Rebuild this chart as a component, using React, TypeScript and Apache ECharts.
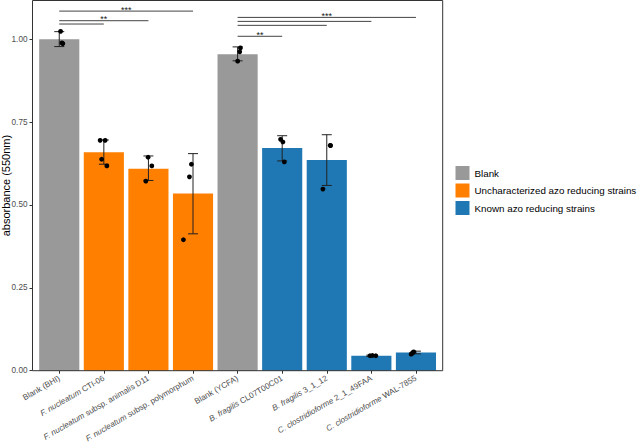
import React, { useEffect, useRef } from "react";
import * as echarts from "echarts";

const categories = [
  "Blank (BHI)",
  "F. nucleatum CTI-06",
  "F. nucleatum subsp. animalis D11",
  "F. nucleatum subsp. polymorphum",
  "Blank (YCFA)",
  "B. fragilis CL07T00C01",
  "B. fragilis 3_1_12",
  "C. clostridioforme 2_1_49FAA",
  "C. clostridioforme WAL-7855",
];
const groupNames = [
  "Blank",
  "Uncharacterized azo reducing strains",
  "Known azo reducing strains",
];
const groupColors = ["#999999", "#FF7F00", "#1F78B4"];
const categoryGroup = [0, 1, 1, 1, 0, 2, 2, 2, 2];

const means = [1.0, 0.659, 0.609, 0.535, 0.955, 0.672, 0.636, 0.045, 0.055];
const errLow = [0.978, 0.623, 0.574, 0.413, 0.935, 0.633, 0.559, 0.043, 0.051];
const errHigh = [1.023, 0.696, 0.648, 0.655, 0.977, 0.709, 0.712, 0.047, 0.059];

const replicateCategory = [0, 0, 0, 1, 1, 1, 1, 2, 2, 2, 3, 3, 3, 4, 4, 4, 5, 5, 5, 6, 6, 6, 7, 7, 7, 8, 8, 8];
const replicateValues = [
  1.024, 0.989, 0.987,
  0.695, 0.695, 0.638, 0.618,
  0.644, 0.618, 0.572,
  0.623, 0.585, 0.395,
  0.974, 0.962, 0.934,
  0.698, 0.69, 0.63,
  0.68, 0.679, 0.548,
  0.045, 0.046, 0.045,
  0.05, 0.057, 0.053,
];
// horizontal jitter, in category widths
const replicateJitter = [
  0.03, 0.06, 0.08,
  -0.083, 0.03, -0.05, 0.067,
  -0.007, 0.076, -0.058,
  -0.036, -0.08, -0.215,
  0.063, 0.047, 0.002,
  -0.036, 0.016, 0.047,
  0.078, 0.085, -0.087,
  -0.03, 0.025, 0.1,
  -0.108, -0.05, -0.08,
];

const comparisonsFrom = [0, 0, 0, 4, 4, 4, 4];
const comparisonsTo = [3, 2, 1, 8, 7, 6, 5];
const comparisonsY = [1.085, 1.056, 1.046, 1.066, 1.054, 1.042, 1.009];
const comparisonsLabel = ["***", "**", "", "***", "", "", "**"];

const yTickInterval = 0.25;

const FONT = "'Liberation Sans', Arial, Helvetica, sans-serif";

function formatCategory(name: string): string {
  if (name.startsWith("Blank")) return name;
  const parts = name.split(" ");
  const sp = parts.slice(0, 2).join(" ");
  const rest = parts.slice(2).join(" ");
  return "{i|" + sp + "}" + (rest ? " " + rest : "");
}

export default function App() {
  const ref = useRef<HTMLDivElement>(null);

  useEffect(() => {
    if (!ref.current) return;
    const chart = echarts.init(ref.current, undefined, { renderer: "svg" });

    const panelLeft = 32.5;
    const panelRight = 442.7;
    const panelTop = 0.5;
    const panelBottom = 370.7;
    const unit = (panelRight - panelLeft) / 9.2;
    const gridLeft = panelLeft + 0.1 * unit;
    const gridWidth = 9 * unit;

    const barSeries = groupNames.map((g, gi) => ({
      name: g,
      type: "bar",
      data: means.map((v, i) => (categoryGroup[i] === gi ? v : "-")),
      barWidth: 0.9 * unit,
      barGap: "-100%",
      itemStyle: { color: groupColors[gi] },
      z: 1,
    }));

    const option: any = {
      animation: false,
      backgroundColor: "#ffffff",
      textStyle: { fontFamily: FONT },
      grid: {
        left: gridLeft,
        width: gridWidth,
        top: panelTop,
        bottom: 443 - panelBottom,
        containLabel: false,
        outerBoundsMode: "none",
      },
      legend: {
        orient: "vertical",
        left: 455.5,
        top: 166,
        padding: 0,
        itemWidth: 14,
        itemHeight: 14,
        itemGap: 3.5,
        icon: "rect",
        data: groupNames,
        textStyle: { fontSize: 9.8, color: "#000", fontFamily: FONT },
        selectedMode: false,
      },
      xAxis: {
        type: "category",
        data: categories,
        axisLine: { show: false },
        axisTick: { show: true, alignWithLabel: true, length: 3, lineStyle: { color: "#333" } },
        axisLabel: {
          interval: 0,
          rotate: 30,
          margin: 7,
          fontSize: 8.1,
          color: "#4d4d4d",
          fontFamily: FONT,
          formatter: (v: string) => formatCategory(v),
          rich: {
            i: { fontStyle: "italic", fontSize: 8.1, color: "#4d4d4d", fontFamily: FONT },
          },
        },
        splitLine: { show: false },
      },
      yAxis: {
        type: "value",
        min: 0,
        max: 1.117,
        interval: yTickInterval,
        offset: gridLeft - panelLeft,
        name: "absorbance (550nm)",
        nameLocation: "middle",
        nameRotate: 90,
        nameGap: 21.5,
        nameMoveOverlap: false,
        nameTextStyle: { fontSize: 11, color: "#000", fontFamily: FONT },
        axisLine: { show: false },
        axisTick: { show: true, length: 3, lineStyle: { color: "#333" } },
        axisLabel: {
          margin: 5,
          fontSize: 8.2,
          color: "#4d4d4d",
          fontFamily: FONT,
          showMaxLabel: false,
          formatter: (v: number) => v.toFixed(2),
        },
        splitLine: { show: false },
      },
      graphic: [
        {
          type: "rect",
          shape: {
            x: panelLeft,
            y: panelTop,
            width: panelRight - panelLeft,
            height: panelBottom - panelTop,
          },
          style: { fill: "none", stroke: "#333", lineWidth: 1 },
          z: 100,
          silent: true,
        },
      ],
      series: [
        ...barSeries,
        {
          type: "custom",
          name: "errorbars",
          z: 3,
          data: means.map((_, i) => [i, errLow[i], errHigh[i]]),
          renderItem: (params: any, api: any) => {
            const i = api.value(0);
            const lo = api.coord([i, api.value(1)]);
            const hi = api.coord([i, api.value(2)]);
            const half = 5;
            const st = { stroke: "#222", lineWidth: 1 };
            return {
              type: "group",
              children: [
                { type: "line", shape: { x1: lo[0], y1: lo[1], x2: hi[0], y2: hi[1] }, style: st },
                { type: "line", shape: { x1: lo[0] - half, y1: lo[1], x2: lo[0] + half, y2: lo[1] }, style: st },
                { type: "line", shape: { x1: hi[0] - half, y1: hi[1], x2: hi[0] + half, y2: hi[1] }, style: st },
              ],
            };
          },
        },
        {
          type: "custom",
          name: "replicates",
          z: 4,
          data: replicateValues.map((v, k) => [replicateCategory[k], v, replicateJitter[k]]),
          renderItem: (params: any, api: any) => {
            const c = api.coord([api.value(0), api.value(1)]);
            const w = api.size([1, 0])[0];
            return {
              type: "circle",
              shape: { cx: c[0] + api.value(2) * w, cy: c[1], r: 2.4 },
              style: { fill: "#000" },
            };
          },
        },
        {
          type: "custom",
          name: "brackets",
          z: 5,
          data: comparisonsFrom.map((f, k) => [f, comparisonsTo[k], comparisonsY[k]]),
          renderItem: (params: any, api: any) => {
            const p1 = api.coord([api.value(0), api.value(2)]);
            const p2 = api.coord([api.value(1), api.value(2)]);
            const label = comparisonsLabel[params.dataIndex];
            const children: any[] = [
              {
                type: "line",
                shape: { x1: p1[0], y1: p1[1], x2: p2[0], y2: p2[1] },
                style: { stroke: "#444", lineWidth: 1 },
              },
            ];
            if (label) {
              children.push({
                type: "text",
                x: (p1[0] + p2[0]) / 2,
                y: p1[1] + 3,
                style: {
                  text: label,
                  align: "center",
                  verticalAlign: "bottom",
                  fontSize: 9,
                  fill: "#222",
                  fontFamily: FONT,
                },
              });
            }
            return { type: "group", children };
          },
        },
      ],
    };

    chart.setOption(option);
    return () => chart.dispose();
  }, []);

  return (
    <div
      ref={ref}
      style={{ position: "absolute", left: 0, top: 0, width: 640, height: 443, background: "#fff" }}
    />
  );
}
